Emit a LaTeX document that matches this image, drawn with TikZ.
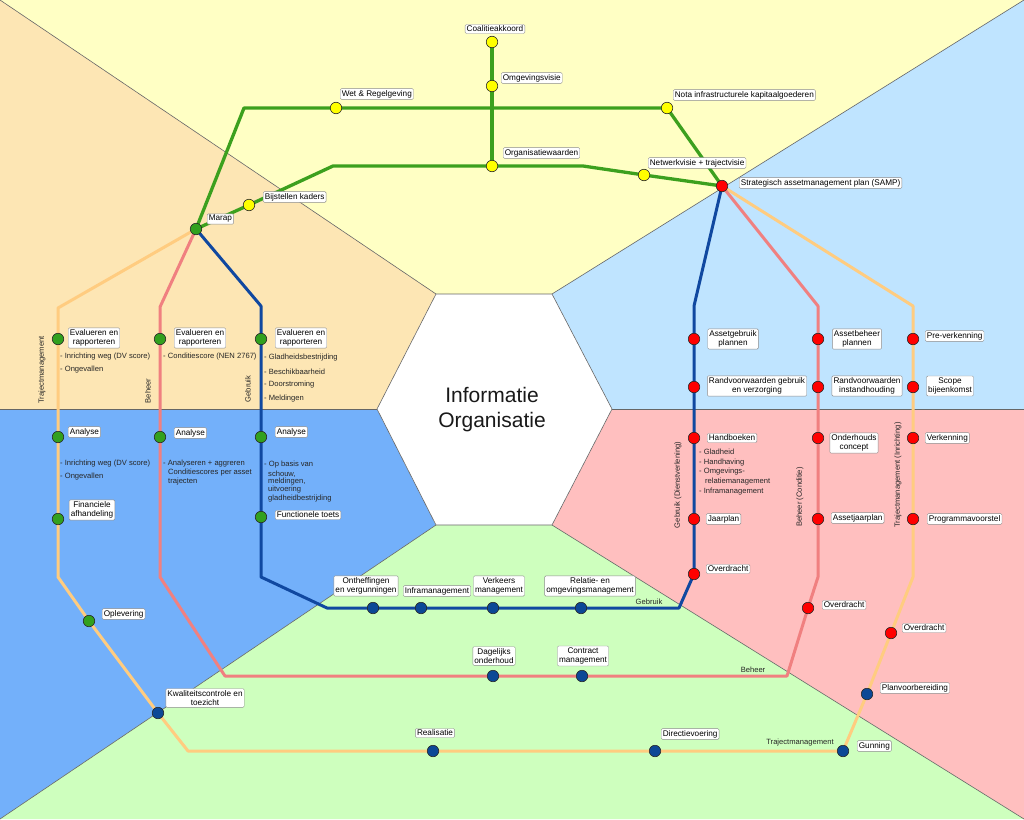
\documentclass[tikz,border=0pt]{standalone}
\usepackage{fontspec}
\setmainfont{Liberation Sans}
\pgfdeclarelayer{regions}
\pgfdeclarelayer{lines}
\pgfsetlayers{regions,lines,main}
\definecolor{bgY}{RGB}{255,255,196}
\definecolor{bgP}{RGB}{253,230,180}
\definecolor{bgLB}{RGB}{191,228,255}
\definecolor{bgB}{RGB}{115,176,250}
\definecolor{bgR}{RGB}{255,191,191}
\definecolor{bgG}{RGB}{206,255,190}
\definecolor{lnG}{RGB}{60,160,30}
\definecolor{lnB}{RGB}{16,72,160}
\definecolor{lnR}{RGB}{240,128,128}
\definecolor{lnO}{RGB}{255,204,128}
\definecolor{stY}{RGB}{255,255,0}
\definecolor{stG}{RGB}{50,160,30}
\definecolor{stR}{RGB}{255,0,0}
\definecolor{stB}{RGB}{12,72,150}
\newcommand\lblfont{\fontsize{8.2}{9.6}\selectfont}
\newcommand\notefont{\fontsize{7.6}{8.8}\selectfont}
\tikzset{
  stn/.style={circle, draw=black!85, line width=0.6pt, minimum size=11.5pt, inner sep=0pt},
  ys/.style={stn, fill=stY}, gs/.style={stn, fill=stG},
  rs/.style={stn, fill=stR}, bs/.style={stn, fill=stB},
  lbl/.style={draw=black!45, fill=white, rounded corners=1.2pt, inner xsep=1.6pt, inner ysep=1.5pt, font=\lblfont, align=center},
  note/.style={inner sep=0pt, font=\notefont, anchor=west, text=black!85},
  vlab/.style={inner sep=0pt, font=\notefont, rotate=90, text=black!85},
  gline/.style={draw=lnG, line width=3.3pt, line join=round},
  bline/.style={draw=lnB, line width=3pt, line join=round},
  rline/.style={draw=lnR, line width=3pt, line join=round},
  oline/.style={draw=lnO, line width=3pt, line join=round},
  region/.style={draw=black!60, line width=0.6pt, line join=round}
}
\begin{document}
\begin{tikzpicture}[x=1pt,y=-1pt]
\useasboundingbox (0,0) rectangle (1024,819);
% ---------- regions ----------
\begin{pgfonlayer}{regions}
\coordinate (H1) at (436,294);
\coordinate (H2) at (552,294);
\coordinate (H3) at (612,409);
\coordinate (H4) at (552,525);
\coordinate (H5) at (436,525);
\coordinate (H6) at (377,409);
\fill[bgY] (0,0) -- (1024,0) -- (H2) -- (H1) -- cycle;
\fill[bgP] (0,0) -- (H1) -- (H6) -- (0,409) -- cycle;
\fill[bgLB] (1024,0) -- (1024,409) -- (H3) -- (H2) -- cycle;
\fill[bgB] (0,409) -- (H6) -- (H5) -- (0,819) -- cycle;
\fill[bgR] (1024,409) -- (1024,819) -- (H4) -- (H3) -- cycle;
\fill[bgG] (0,819) -- (H5) -- (H4) -- (1024,819) -- cycle;
\draw[region, fill=white] (H1) -- (H2) -- (H3) -- (H4) -- (H5) -- (H6) -- cycle;
\draw[region] (H1) -- (0,0);
\draw[region] (H2) -- (1024,0);
\draw[region] (H6) -- (0,409);
\draw[region] (H3) -- (1024,409);
\draw[region] (H5) -- (0,819);
\draw[region] (H4) -- (1024,819);
\end{pgfonlayer}
\node[font=\fontsize{21}{25}\selectfont, align=center, text=black!90] (info) at (492,410) {Informatie\\Organisatie};
% ---------- stations ----------
\node[ys] (Coal) at (492,42) {};
\node[ys] (Omg) at (492,86) {};
\node[ys] (Org) at (492,166) {};
\node[ys] (Wet) at (336,108) {};
\node[ys] (Nota) at (667,108) {};
\node[ys] (Net) at (644,175) {};
\node[ys] (Bij) at (249,205) {};
\node[gs] (Marap) at (196,229) {};
\node[rs] (SAMP) at (722,186) {};
\node[gs] (Ev1) at (58,339) {};
\node[gs] (An1) at (58,437) {};
\node[gs] (Fin) at (58,519) {};
\node[gs] (Opl) at (89,621) {};
\node[gs] (Ev2) at (160,339) {};
\node[gs] (An2) at (160,437) {};
\node[gs] (Ev3) at (261,339) {};
\node[gs] (An3) at (261,437) {};
\node[gs] (Ft) at (261,517) {};
\node[bs] (Kwal) at (158,713) {};
\node[bs] (Real) at (433,751) {};
\node[bs] (Dir) at (655,751) {};
\node[bs] (Gun) at (843,751) {};
\node[bs] (Plan) at (867,694) {};
\node[bs] (Ont) at (373,608) {};
\node[bs] (Inf) at (421,608) {};
\node[bs] (Vk) at (493,608) {};
\node[bs] (Rel) at (581,608) {};
\node[bs] (Dag) at (493,676) {};
\node[bs] (Con) at (582,676) {};
\node[rs] (Asg) at (694,339) {};
\node[rs] (Rv1) at (694,387) {};
\node[rs] (Hand) at (694,438) {};
\node[rs] (Jaar) at (694,519) {};
\node[rs] (Ov1) at (694,574) {};
\node[rs] (Asb) at (818,339) {};
\node[rs] (Rv2) at (818,387) {};
\node[rs] (Ond) at (818,438) {};
\node[rs] (Aj) at (818,519) {};
\node[rs] (Ov2) at (808,608) {};
\node[rs] (Pre) at (913,339) {};
\node[rs] (Scope) at (913,387) {};
\node[rs] (Verk) at (913,438) {};
\node[rs] (Prog) at (913,519) {};
\node[rs] (Ov3) at (891,633) {};
% ---------- bend points ----------
\coordinate (cU) at (244,108);
\coordinate (cL1) at (333,166);
\coordinate (cL2) at (583,166);
\coordinate (b1) at (261,306);
\coordinate (b2) at (261,577);
\coordinate (b3) at (327,608);
\coordinate (b4) at (679,608);
\coordinate (b5) at (694,306);
\coordinate (r1) at (160,307);
\coordinate (r2) at (160,577);
\coordinate (r3) at (225,676);
\coordinate (r4) at (787,676);
\coordinate (r5) at (818,577);
\coordinate (r6) at (818,306);
\coordinate (o1) at (58,308);
\coordinate (o2) at (58,577);
\coordinate (o3) at (188,751);
\coordinate (o4) at (913,577);
\coordinate (o5) at (913,306);
% ---------- lines ----------
\begin{pgfonlayer}{lines}
\draw[oline] (Marap.center) -- (o1) -- (Ev1.center) -- (An1.center) -- (Fin.center) -- (o2) -- (Opl.center) -- (Kwal.center) -- (o3) -- (Real.center) -- (Dir.center) -- (Gun.center) -- (Plan.center) -- (Ov3.center) -- (o4) -- (Prog.center) -- (Verk.center) -- (Scope.center) -- (Pre.center) -- (o5) -- (SAMP.center);
\draw[rline] (Marap.center) -- (r1) -- (Ev2.center) -- (An2.center) -- (r2) -- (r3) -- (Dag.center) -- (Con.center) -- (r4) -- (Ov2.center) -- (r5) -- (Aj.center) -- (Ond.center) -- (Rv2.center) -- (Asb.center) -- (r6) -- (SAMP.center);
\draw[bline] (Marap.center) -- (b1) -- (Ev3.center) -- (An3.center) -- (Ft.center) -- (b2) -- (b3) -- (Ont.center) -- (Inf.center) -- (Vk.center) -- (Rel.center) -- (b4) -- (Ov1.center) -- (Jaar.center) -- (Hand.center) -- (Rv1.center) -- (Asg.center) -- (b5) -- (SAMP.center);
\draw[gline] (Marap.center) -- (cU) -- (Wet.center) -- (Nota.center) -- (SAMP.center);
\draw[gline] (Marap.center) -- (Bij.center) -- (cL1) -- (Org.center) -- (cL2) -- (Net.center) -- (SAMP.center);
\draw[gline] (Coal.center) -- (Omg.center) -- (Org.center);
\end{pgfonlayer}
% ---------- labels: top ----------
\node[lbl] (lCoal) at (495,29) {Coalitieakkoord};
\node[lbl, anchor=west] (lOmg) at (501,78) {Omgevingsvisie};
\node[lbl, anchor=west] (lOrg) at (503,153) {Organisatiewaarden};
\node[lbl, anchor=west] (lWet) at (340,94) {Wet \& Regelgeving};
\node[lbl, anchor=west] (lNota) at (673,95) {Nota infrastructurele kapitaalgoederen};
\node[lbl, anchor=west] (lNet) at (648,163) {Netwerkvisie + trajectvisie};
\node[lbl, anchor=west] (lSAMP) at (739,183) {Strategisch assetmanagement plan (SAMP)};
\node[lbl, anchor=west] (lBij) at (263,197) {Bijstellen kaders};
\node[lbl, anchor=west] (lMarap) at (207,219) {Marap};
% ---------- labels: left ----------
\node[lbl] (lEv1) at (94,338) {Evalueren en\\rapporteren};
\node[lbl] (lEv2) at (200,338) {Evalueren en\\rapporteren};
\node[lbl] (lEv3) at (301,338) {Evalueren en\\rapporteren};
\node[note] (s1a) at (60,357) {- Inrichting weg (DV score)};
\node[note] (s1b) at (60,370) {- Ongevallen};
\node[note] (s2a) at (163,357) {- Conditiescore (NEN 2767)};
\node[note] (s3a) at (264,358) {- Gladheidsbestrijding};
\node[note] (s3b) at (264,372) {- Beschikbaarheid};
\node[note] (s3c) at (264,385) {- Doorstroming};
\node[note] (s3d) at (264,399) {- Meldingen};
\node[lbl, anchor=west] (lAn1) at (68,432) {Analyse};
\node[lbl, anchor=west] (lAn2) at (174,433) {Analyse};
\node[lbl, anchor=west] (lAn3) at (275,432) {Analyse};
\node[note] (s4a) at (60,464) {- Inrichting weg (DV score)};
\node[note] (s4b) at (60,477) {- Ongevallen};
\node[note] (s5a) at (163,464) {- Analyseren + aggreren};
\node[note] (s5b) at (168,473) {Conditiescores per asset};
\node[note] (s5c) at (168,482) {trajecten};
\node[note] (s6a) at (264,465) {- Op basis van};
\node[note] (s6b) at (268,474) {schouw,};
\node[note] (s6c) at (268,482) {meldingen,};
\node[note] (s6d) at (268,490) {uitvoering};
\node[note] (s6e) at (268,499) {gladheidbestrijding};
\node[lbl] (lFin) at (92,510) {Financiele\\afhandeling};
\node[lbl, anchor=west] (lFt) at (275,515) {Functionele toets};
\node[lbl, anchor=west] (lOpl) at (102,614) {Oplevering};
\node[vlab] (vT1) at (42,370) {Trajectmanagement};
\node[vlab] (vB1) at (148,391) {Beheer};
\node[vlab] (vG1) at (248,389) {Gebruik};
% ---------- labels: bottom ----------
\node[lbl] (lOnt) at (366,586) {Ontheffingen\\en vergunningen};
\node[lbl] (lInf) at (437,591) {Inframanagement};
\node[lbl] (lVk) at (499,586) {Verkeers\\management};
\node[lbl] (lRel) at (590,586) {Relatie- en\\omgevingsmanagement};
\node[note, anchor=center] (tG) at (649,602) {Gebruik};
\node[lbl] (lDag) at (494,656) {Dagelijks\\onderhoud};
\node[lbl] (lCon) at (583,656) {Contract\\management};
\node[note, anchor=center] (tB) at (753,670) {Beheer};
\node[lbl] (lKwal) at (205,698) {Kwaliteitscontrole en\\toezicht};
\node[lbl] (lReal) at (435,733) {Realisatie};
\node[lbl, anchor=west] (lDir) at (661,734) {Directievoering};
\node[note, anchor=center] (tT) at (800,743) {Trajectmanagement};
\node[lbl, anchor=west] (lGun) at (857,746) {Gunning};
% ---------- labels: right ----------
\node[lbl] (lAsg) at (733,339) {Assetgebruik\\plannen};
\node[lbl] (lRv1) at (757,386) {Randvoorwaarden gebruik\\en verzorging};
\node[lbl] (lAsb) at (857,339) {Assetbeheer\\plannen};
\node[lbl] (lRv2) at (867,386) {Randvoorwaarden\\instandhouding};
\node[lbl, anchor=west] (lPre) at (925,336) {Pre-verkenning};
\node[lbl] (lScope) at (950,386) {Scope\\bijeenkomst};
\node[lbl, anchor=west] (lHand) at (707,438) {Handboeken};
\node[note] (h1) at (699,452) {- Gladheid};
\node[note] (h2) at (699,463) {- Handhaving};
\node[note] (h3) at (699,472) {- Omgevings-};
\node[note] (h4) at (705,482) {relatiemanagement};
\node[note] (h5) at (699,492) {- Inframanagement};
\node[lbl] (lOnd) at (854,443) {Onderhouds\\concept};
\node[lbl, anchor=west] (lVerk) at (925,438) {Verkenning};
\node[lbl, anchor=west] (lJaar) at (706,519) {Jaarplan};
\node[lbl, anchor=west] (lAj) at (831,518) {Assetjaarplan};
\node[lbl, anchor=west] (lProg) at (927,519) {Programmavoorstel};
\node[lbl, anchor=west] (lOv1) at (706,569) {Overdracht};
\node[lbl, anchor=west] (lOv2) at (822,605) {Overdracht};
\node[lbl, anchor=west] (lOv3) at (902,628) {Overdracht};
\node[lbl, anchor=west] (lPlan) at (880,688) {Planvoorbereiding};
\node[vlab] (vG2) at (678,485) {Gebruik (Dienstverlening)};
\node[vlab] (vB2) at (800,497) {Beheer (Conditie)};
\node[vlab] (vT2) at (898,475) {Trajectmanagement (Inrichting)};
\end{tikzpicture}
\end{document}
